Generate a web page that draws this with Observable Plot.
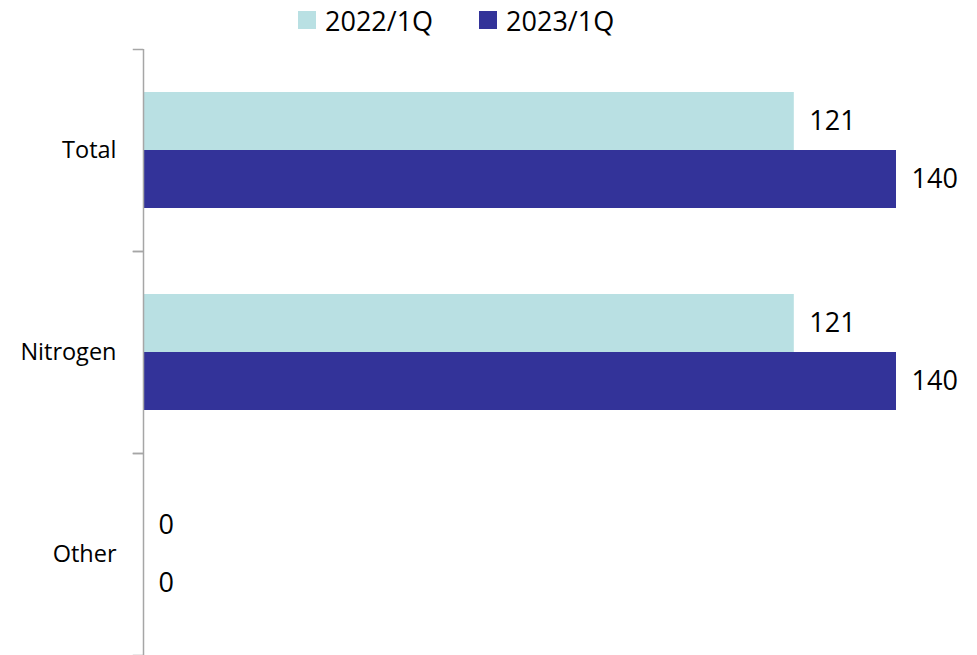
<!DOCTYPE html>
<html>
<head>
<meta charset="utf-8">
<script src="https://cdn.jsdelivr.net/npm/d3@7"></script>
<script src="https://cdn.jsdelivr.net/npm/@observablehq/plot@0.6"></script>
<style>
  html, body { margin: 0; padding: 0; background: #fff; }
  #legend { height: 40px; display: flex; align-items: center; padding-left: 298px;
            font-family: "Open Sans", sans-serif; font-size: 27px; color: #000; }
  .item { display: flex; align-items: center; margin-right: 46px; }
  .sw { width: 18px; height: 18px; margin-right: 9px; }
</style>
</head>
<body>
<div id="legend"></div>
<div id="chart"></div>
<script>
const categories = ["Total", "Nitrogen", "Other"];
const series = ["2022/1Q", "2023/1Q"];
const values2022 = [121, 121, 0];
const values2023 = [140, 140, 0];
const colors = ["#B9E0E3", "#333399"];

const data = categories.flatMap((c, i) => [
  {category: c, series: series[0], value: values2022[i]},
  {category: c, series: series[1], value: values2023[i]}
]);

const legend = document.getElementById("legend");
series.forEach((s, i) => {
  const item = document.createElement("div");
  item.className = "item";
  const sw = document.createElement("div");
  sw.className = "sw";
  sw.style.background = colors[i];
  const t = document.createElement("span");
  t.textContent = s;
  item.appendChild(sw);
  item.appendChild(t);
  legend.appendChild(item);
});

const W = 977, ML = 133, MR = 81, TICK = 9;
const axisColor = "#a6a6a6";

const chart = Plot.plot({
  width: W,
  height: 615,
  marginTop: 9,
  marginBottom: 0,
  marginLeft: ML,
  marginRight: MR,
  x: {domain: [0, 140], insetLeft: 10, axis: null},
  y: {domain: series, paddingInner: 0, paddingOuter: 0.74, axis: null},
  fy: {domain: categories, padding: 0, axis: "left", label: null, tickSize: 0, tickPadding: 17},
  color: {domain: series, range: colors},
  style: {fontFamily: "'Open Sans', sans-serif", fontSize: "23.5px", color: "#000", background: "#fff"},
  marks: [
    Plot.barX(data, {fy: "category", y: "series", x: "value", fill: "series"}),
    Plot.text(data, {fy: "category", y: "series", x: "value", text: d => String(d.value),
      textAnchor: "start", dx: 15, fontSize: 27, fill: "#000"}),
    Plot.ruleX([0], {stroke: axisColor, strokeWidth: 1.5}),
    Plot.frame({anchor: "top", insetRight: W - ML - MR - TICK, stroke: axisColor, strokeWidth: 1.5}),
    Plot.frame({anchor: "bottom", insetRight: W - ML - MR - TICK, stroke: axisColor, strokeWidth: 1.5})
  ]
});
document.getElementById("chart").appendChild(chart);
</script>
</body>
</html>
